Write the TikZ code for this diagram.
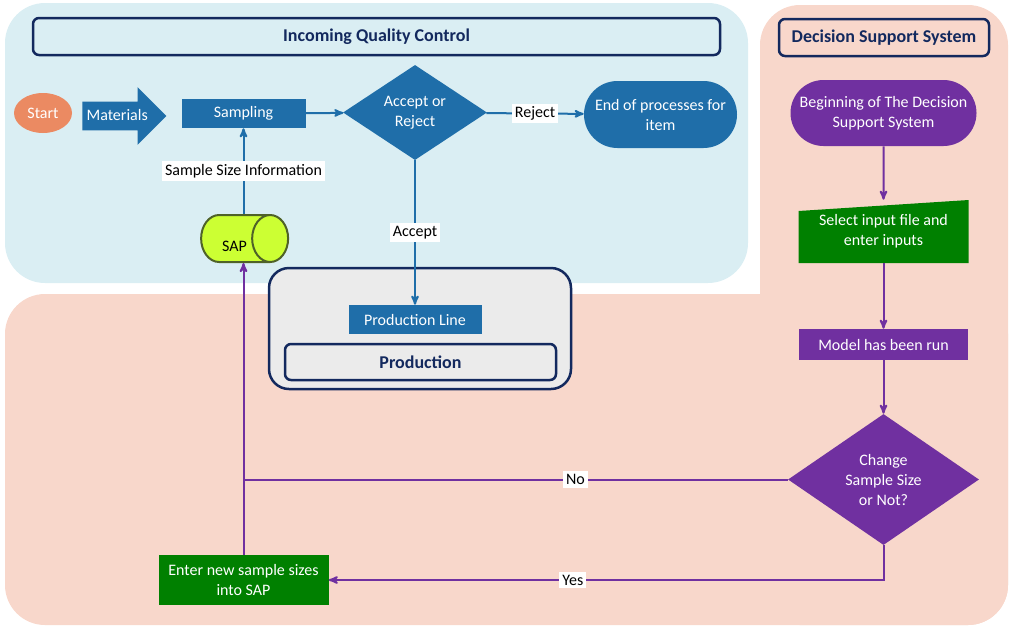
\documentclass[tikz,border=0pt]{standalone}
\usepackage{fontspec}
\setmainfont{Carlito}
\usepackage{xcolor}
\usetikzlibrary{arrows, positioning, shapes.geometric, shapes.misc, shapes.arrows}

\definecolor{bgblue}{HTML}{DAEEF3}
\definecolor{bgpink}{HTML}{F8D7CB}
\definecolor{iqcblue}{HTML}{1F6EA9}
\definecolor{navy}{HTML}{13295E}
\definecolor{startorange}{HTML}{EB8A62}
\definecolor{dsspurple}{HTML}{7030A0}
\definecolor{dssgreen}{HTML}{008000}
\definecolor{saplime}{HTML}{CCFF33}
\definecolor{sapolive}{HTML}{4F6228}
\definecolor{prodgray}{HTML}{EBEBEB}

\begin{document}
\begin{tikzpicture}[x=1pt,y=-1pt,>=stealth',semithick,font=\fontsize{16}{20}\selectfont]
    \tikzset{iqcbox/.style={rectangle, fill=iqcblue, text=white, minimum width=124pt, minimum height=29pt, inner sep=2pt}}
    \tikzset{dssbox/.style={rectangle, fill=dsspurple, text=white, minimum width=169pt, minimum height=31pt, inner sep=2pt}}
    \tikzset{greenbox/.style={rectangle, fill=dssgreen, text=white, align=center, minimum width=170pt, minimum height=50pt, inner sep=2pt}}
    \tikzset{titlebox/.style={rectangle, draw=navy, line width=2.5pt, rounded corners=6pt, text=navy, minimum height=37pt, font=\fontsize{18}{21}\selectfont\bfseries}}
    \tikzset{terminal/.style={rounded rectangle, text=white, align=center, minimum height=67pt, inner sep=2pt}}
    \tikzset{decision/.style={diamond, text=white, align=center, inner sep=0pt}}
    \tikzset{inputbox/.style={rectangle, text=white, align=center, minimum width=170pt, minimum height=63pt,
        path picture={\fill[dssgreen] (path picture bounding box.south west) -- ([yshift=-11pt]path picture bounding box.north west)
        -- (path picture bounding box.north east) -- (path picture bounding box.south east) -- cycle;}}}
    \tikzset{lbl/.style={fill=white, text=black, inner sep=3pt}}
    \tikzset{iqcline/.style={draw=iqcblue, line width=2pt}}
    \tikzset{dssline/.style={draw=dsspurple, line width=2pt}}

    \useasboundingbox (0,0) rectangle (1009,625);

    % backgrounds
    \fill[bgblue, rounded corners=40pt] (5,3) rectangle (748,283);
    \fill[bgpink, rounded corners=40pt] (760,5) rectangle (1008,625);
    \fill[bgpink, rounded corners=40pt] (5,294) rectangle (1008,625);

    \node[titlebox, minimum width=687pt] (iqctitle) at (376.5,36.5) {Incoming Quality Control};
    \node[titlebox, minimum width=210pt] (dsstitle) at (884,37.5) {Decision Support System};

    % incoming quality control
    \node[ellipse, fill=startorange, text=white, minimum width=58pt, minimum height=40pt, inner sep=0pt] (start) at (43,113) {Start};
    \node[single arrow, fill=iqcblue, text=white, minimum height=81pt, single arrow head extend=14.5pt,
          text height=11pt, text depth=3pt, inner ysep=7pt, inner xsep=4pt, anchor=tail] (mat) at (82,116) {Materials};
    \node[iqcbox] (samp) at (243.5,113.5) {Sampling};
    \node[decision, fill=iqcblue, minimum width=144pt, minimum height=91pt] (ar) at (415,112.5) {Accept or\\Reject};
    \node[terminal, fill=iqcblue, minimum width=157pt] (endp) at (660.5,114.5) {End of processes for\\item};
    \node[cylinder, draw=sapolive, line width=2pt, fill=saplime, shape aspect=2.5,
          minimum width=47pt, minimum height=87pt, inner sep=2pt] (sap) at (231.5,238.5) {\raisebox{-8pt}[\height][0pt]{\hspace{6pt}SAP}};

    % production
    \node[rectangle, draw=navy, line width=2.5pt, fill=prodgray, rounded corners=20pt,
          minimum width=302pt, minimum height=121pt] (prodgrp) at (420,328.5) {};
    \node[iqcbox, minimum width=133pt] (pline) at (415,319.5) {Production Line};
    \node[titlebox, minimum width=271pt, minimum height=36pt] (prodtitle) at (420.5,362) {Production};

    % decision support system
    \node[terminal, fill=dsspurple, minimum width=190pt, minimum height=66pt] (beg) at (883.5,113) {Beginning of The Decision\\Support System};
    \node[inputbox] (inp) at (883.5,231.5) {Select input file and\\enter inputs};
    \node[dssbox] (model) at (883.5,344.5) {Model has been run};
    \node[decision, fill=dsspurple, minimum width=191pt, minimum height=131pt] (chg) at (883.5,479.5) {Change\\Sample Size\\or Not?};
    \node[greenbox] (enter) at (243.5,580) {Enter new sample sizes\\into SAP};

    \path[iqcline] (samp) edge[->] (ar);
    \path[iqcline] (ar) edge[->] node[lbl] {Reject} (endp);
    \path[iqcline] (ar) edge[->] node[lbl] {Accept} (pline);
    \path[iqcline] (samp.south |- sap.north) edge[->] node[lbl] {Sample Size Information} (samp);

    \path[dssline] (beg) edge[->] (inp);
    \path[dssline] (inp) edge[->] (model);
    \path[dssline] (model) edge[->] (chg);
    \draw[dssline] (chg.west) -- node[lbl, pos=0.39] {No} (chg.west -| enter.north);
    \draw[dssline,->] (chg.south) |- node[lbl, pos=0.78] {Yes} (enter.east);
    \path[dssline] (enter) edge[->] (enter.north |- sap.south);
\end{tikzpicture}
\end{document}
